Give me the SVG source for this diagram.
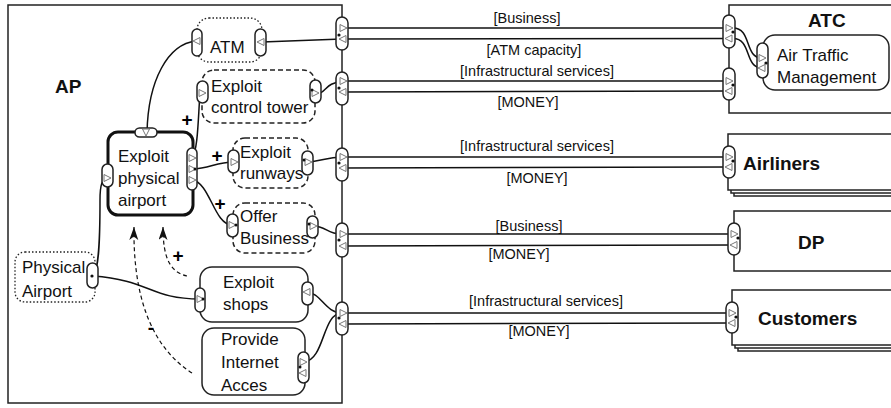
<svg xmlns="http://www.w3.org/2000/svg" xmlns:xlink="http://www.w3.org/1999/xlink" width="891" height="408" viewBox="0 0 891 408">
<style>
  text { font-family: "Liberation Sans", Arial, sans-serif; fill: #111; }
  .t { font-size: 17px; }
  .b { font-size: 19px; font-weight: bold; }
  .lbl { font-size: 14.5px; text-anchor: middle; }
  .sign { font-size: 19px; font-weight: bold; text-anchor: middle; fill: #000; }
  .actor { fill: #fff; stroke: #222; stroke-width: 1.5; }
  .act { fill: #fff; stroke: #222; stroke-width: 1.5; }
  .thick { fill: #fff; stroke: #111; stroke-width: 3; }
  .dash { fill: #fff; stroke: #222; stroke-width: 1.5; stroke-dasharray: 5 3; }
  .dot { fill: #fff; stroke: #222; stroke-width: 1.3; stroke-dasharray: 1.5 2; }
  .port { fill: #fff; stroke: #222; stroke-width: 1.5; }
  .tri { fill: #fff; stroke: #777; stroke-width: 1; }
  .cn { fill: none; stroke: #111; stroke-width: 1.5; }
  .inf { fill: none; stroke: #111; stroke-width: 1.2; stroke-dasharray: 4 3; }
  .pt { fill: #111; }
</style>
<defs>
  <polygon id="tr" class="tri" points="-3,-3.5 4,0 -3,3.5"/>
  <polygon id="tl" class="tri" points="3,-3.5 -4,0 3,3.5"/>
  <polygon id="td" class="tri" points="-3.5,-3 0,4 3.5,-3"/>
  <marker id="ah" markerWidth="14" markerHeight="10" refX="13" refY="4.5" orient="auto" markerUnits="userSpaceOnUse">
    <path d="M0,0 L13,4.5 L0,9 L3.5,4.5 z" fill="#111"/>
  </marker>
</defs>

<!-- Actors -->
<g id="AP">
  <rect class="actor" x="8" y="5" width="334" height="398"/>
  <text class="b" x="55" y="93">AP</text>
</g>
<g id="ATC">
  <rect class="actor" x="729" y="5" width="200" height="108"/>
  <text class="b" x="808" y="27">ATC</text>
</g>
<g id="Airliners">
  <rect class="actor" x="734" y="140" width="200" height="56"/>
  <rect class="actor" x="731" y="137" width="200" height="56"/>
  <rect class="actor" x="728" y="134" width="200" height="56"/>
  <text class="b" x="743" y="170">Airliners</text>
</g>
<g id="DP">
  <rect class="actor" x="734" y="211" width="200" height="60"/>
  <text class="b" x="798" y="249">DP</text>
</g>
<g id="Customers">
  <rect class="actor" x="738" y="296" width="200" height="55"/>
  <rect class="actor" x="735" y="293" width="200" height="55"/>
  <rect class="actor" x="732" y="290" width="200" height="55"/>
  <text class="b" x="758" y="325">Customers</text>
</g>

<!-- Activities / objects -->
<g id="ATM">
  <rect class="dot" x="197" y="18" width="65" height="44" rx="12"/>
  <text class="t" x="210" y="53">ATM</text>
</g>
<g id="ExploitControlTower">
  <rect class="dash" x="202" y="70" width="113" height="53" rx="12"/>
  <text class="t" x="211" y="92">Exploit</text>
  <text class="t" x="211" y="113">control tower</text>
</g>
<g id="ExploitPhysicalAirport">
  <rect class="thick" x="108" y="132" width="85" height="83" rx="10"/>
  <text class="t" x="118" y="162">Exploit</text>
  <text class="t" x="118" y="184">physical</text>
  <text class="t" x="118" y="206">airport</text>
</g>
<g id="ExploitRunways">
  <rect class="dash" x="233" y="138" width="75" height="50" rx="12"/>
  <text class="t" x="240" y="158">Exploit</text>
  <text class="t" x="240" y="179">runways</text>
</g>
<g id="OfferBusiness">
  <rect class="dash" x="233" y="203" width="82" height="50" rx="12"/>
  <text class="t" x="240" y="222">Offer</text>
  <text class="t" x="240" y="244">Business</text>
</g>
<g id="ExploitShops">
  <rect class="act" x="200" y="267" width="108" height="55" rx="12"/>
  <text class="t" x="223" y="288">Exploit</text>
  <text class="t" x="223" y="310">shops</text>
</g>
<g id="ProvideInternetAcces">
  <rect class="act" x="202" y="328" width="103" height="67" rx="12"/>
  <text class="t" x="221" y="345">Provide</text>
  <text class="t" x="221" y="368">Internet</text>
  <text class="t" x="221" y="391">Acces</text>
</g>
<g id="PhysicalAirport">
  <rect class="dot" x="15" y="252" width="80" height="50" rx="10"/>
  <text class="t" x="22" y="273">Physical</text>
  <text class="t" x="22" y="297">Airport</text>
</g>
<g id="AirTrafficManagement">
  <rect class="act" x="763" y="35" width="126" height="55" rx="12"/>
  <text class="t" x="777" y="61">Air Traffic</text>
  <text class="t" x="777" y="83">Management</text>
</g>

<!-- Connectors -->
<g id="connectors">
  <line class="cn" x1="342" y1="28" x2="729" y2="28"/>
  <line class="cn" x1="262" y1="42" x2="342" y2="39"/>
  <line class="cn" x1="342" y1="39" x2="729" y2="38.5"/>
  <line class="cn" x1="342" y1="81" x2="729" y2="81"/>
  <line class="cn" x1="342" y1="92" x2="729" y2="91"/>
  <line class="cn" x1="342" y1="157" x2="729" y2="157"/>
  <line class="cn" x1="342" y1="168" x2="729" y2="167"/>
  <line class="cn" x1="342" y1="234" x2="734" y2="234"/>
  <line class="cn" x1="342" y1="246" x2="734" y2="245"/>
  <line class="cn" x1="342" y1="313" x2="732" y2="313"/>
  <line class="cn" x1="342" y1="324" x2="732" y2="323"/>
  <path class="cn" d="M733,28 C752,28 744,58 762,58"/>
  <path class="cn" d="M733,38.5 C752,38.5 744,68 762,68"/>
  <path class="cn" d="M196,41 C168,44 148,80 147,133"/>
  <path class="cn" d="M315,93 C327,95 324,82 342,82"/>
  <path class="cn" d="M192,158 C198,150 198,120 200,93"/>
  <path class="cn" d="M192,169 C210,169 215,162 234,162"/>
  <path class="cn" d="M192,180 C210,182 214,225 232,225"/>
  <path class="cn" d="M306,162 C322,162 325,157 342,157"/>
  <path class="cn" d="M312,226 C328,226 325,234 342,234"/>
  <path class="cn" d="M306,292 C321,292 325,313 342,313"/>
  <path class="cn" d="M304,362 C325,360 322,313 342,313"/>
  <path class="cn" d="M93,276 C99,270 100,240 100,200 C100,185 102,178 108,178"/>
  <path class="cn" d="M93,276 C150,280 150,299 200,299"/>
  <path class="inf" d="M187,276 C170,272 163,258 163,227" marker-end="url(#ah)"/>
  <path class="inf" d="M192,373 C148,345 133,290 134,227" marker-end="url(#ah)"/>
  <text class="lbl" x="527" y="23">[Business]</text>
  <text class="lbl" x="534" y="55">[ATM capacity]</text>
  <text class="lbl" x="537" y="76">[Infrastructural services]</text>
  <text class="lbl" x="528" y="107">[MONEY]</text>
  <text class="lbl" x="537" y="151">[Infrastructural services]</text>
  <text class="lbl" x="537" y="183">[MONEY]</text>
  <text class="lbl" x="529" y="231">[Business]</text>
  <text class="lbl" x="519" y="259">[MONEY]</text>
  <text class="lbl" x="546" y="306">[Infrastructural services]</text>
  <text class="lbl" x="539" y="336">[MONEY]</text>
  <text class="sign" x="187" y="126">+</text>
  <text class="sign" x="217" y="162">+</text>
  <text class="sign" x="220" y="210">+</text>
  <text class="sign" x="178" y="262">+</text>
  <text class="sign" x="151" y="334">-</text>
</g>

<!-- Ports -->
<g id="ports">
  <rect class="port" x="336" y="17" width="12" height="33" rx="6"/>
  <use href="#tr" x="343" y="28"/><use href="#tl" x="343" y="39"/>
  <rect class="port" x="336" y="72" width="12" height="33" rx="6"/>
  <use href="#tr" x="343" y="81"/><use href="#tl" x="343" y="92"/>
  <rect class="port" x="336" y="148" width="12" height="33" rx="6"/>
  <use href="#tr" x="343" y="157"/><use href="#tl" x="343" y="168"/>
  <rect class="port" x="336" y="223" width="12" height="34" rx="6"/>
  <use href="#tr" x="343" y="234"/><use href="#tl" x="343" y="246"/>
  <rect class="port" x="336" y="302" width="12" height="33" rx="6"/>
  <use href="#tr" x="343" y="313"/><use href="#tl" x="343" y="324"/>
  <circle class="pt" cx="339" cy="35" r="1.6"/>
  <circle class="pt" cx="339" cy="88" r="1.6"/>
  <circle class="pt" cx="339" cy="163" r="1.6"/>
  <circle class="pt" cx="339" cy="240" r="1.6"/>
  <circle class="pt" cx="339" cy="318" r="1.6"/>
  <rect class="port" x="723" y="15" width="12" height="33" rx="6"/>
  <use href="#tr" x="729" y="28"/><use href="#tl" x="729" y="38.5"/>
  <circle class="pt" cx="733" cy="32" r="1.6"/>
  <rect class="port" x="723" y="68" width="12" height="32" rx="6"/>
  <use href="#tr" x="729" y="81"/><use href="#tl" x="729" y="91"/>
  <circle class="pt" cx="733" cy="85" r="1.6"/>
  <rect class="port" x="723" y="146" width="12" height="32" rx="6"/>
  <use href="#tr" x="729" y="157"/><use href="#tl" x="729" y="167"/>
  <circle class="pt" cx="733" cy="161" r="1.6"/>
  <rect class="port" x="728" y="223" width="12" height="32" rx="6"/>
  <use href="#tr" x="734" y="234"/><use href="#tl" x="734" y="245"/>
  <circle class="pt" cx="738" cy="238" r="1.6"/>
  <rect class="port" x="726" y="302" width="12" height="31" rx="6"/>
  <use href="#tr" x="732" y="313"/><use href="#tl" x="732" y="323"/>
  <circle class="pt" cx="736" cy="317" r="1.6"/>
  <rect class="port" x="757" y="43" width="11" height="35" rx="5.5"/>
  <use href="#tr" x="762" y="58"/><use href="#tl" x="762" y="68"/>
  <circle class="pt" cx="766" cy="63" r="1.6"/>
  <rect class="port" x="192" y="29" width="10" height="27" rx="5"/>
  <use href="#tl" x="197" y="41"/>
  <rect class="port" x="255" y="29" width="11" height="27" rx="5.5"/>
  <use href="#tl" x="261" y="42"/>
  <rect class="port" x="197" y="81" width="11" height="22" rx="5.5"/>
  <use href="#tr" x="202" y="93"/>
  <rect class="port" x="310" y="80" width="11" height="23" rx="5.5"/>
  <use href="#tr" x="315" y="93"/>
  <circle class="pt" cx="312" cy="90" r="1.5"/>
  <rect class="port" x="135" y="128" width="22" height="9" rx="4.5"/>
  <use href="#td" x="146" y="132"/>
  <rect class="port" x="187" y="148" width="10" height="42" rx="5"/>
  <use href="#tr" x="192" y="158"/><use href="#tr" x="192" y="169"/><use href="#tr" x="192" y="180"/>
  <circle class="pt" cx="195" cy="169" r="1.5"/>
  <rect class="port" x="102" y="164" width="11" height="23" rx="5.5"/>
  <use href="#tr" x="107" y="178"/>
  <rect class="port" x="228" y="150" width="11" height="23" rx="5.5"/>
  <use href="#tr" x="234" y="162"/>
  <rect class="port" x="302" y="151" width="11" height="24" rx="5.5"/>
  <use href="#tr" x="308" y="162"/>
  <circle class="pt" cx="304" cy="160" r="1.5"/>
  <rect class="port" x="227" y="214" width="11" height="23" rx="5.5"/>
  <use href="#tr" x="232" y="225"/>
  <circle class="pt" cx="236" cy="225" r="1.5"/>
  <rect class="port" x="307" y="216" width="11" height="22" rx="5.5"/>
  <use href="#tr" x="313" y="226"/>
  <circle class="pt" cx="309" cy="224" r="1.5"/>
  <rect class="port" x="195" y="288" width="10" height="24" rx="5"/>
  <use href="#tr" x="200" y="299"/>
  <circle class="pt" cx="203" cy="299" r="1.5"/>
  <rect class="port" x="302" y="282" width="11" height="23" rx="5.5"/>
  <use href="#tl" x="307" y="292"/>
  <rect class="port" x="298" y="352" width="11" height="31" rx="5.5"/>
  <use href="#tr" x="303" y="362"/><use href="#tl" x="303" y="373"/>
  <circle class="pt" cx="300" cy="367" r="1.5"/>
  <rect class="port" x="87" y="263" width="11" height="25" rx="5.5"/>
  <circle class="pt" cx="92" cy="276" r="1.6"/>
</g>
</svg>
